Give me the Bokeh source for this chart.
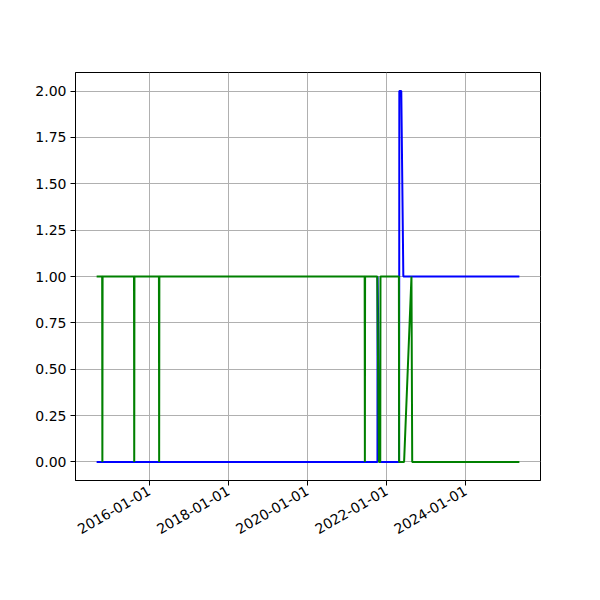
import math
import pandas as pd
from bokeh.plotting import figure
from bokeh.models import Range1d, FixedTicker, NumeralTickFormatter, CustomJSTickFormatter
from bokeh.embed import file_html
from bokeh.resources import INLINE

# ---- data ----
blue_dates = ["2014-09-03", "2021-10-08", "2021-10-09", "2021-11-01", "2022-04-26",
              "2022-04-28", "2022-05-16", "2022-06-04", "2025-05-10"]
blue_values = [0, 0, 1, 0, 0, 2, 2, 1, 1]

green_dates = ["2014-09-03", "2014-10-24", "2014-10-26", "2014-10-28",
               "2015-08-14", "2015-08-16", "2015-08-18",
               "2016-03-31", "2016-04-02", "2016-04-04",
               "2021-06-12", "2021-06-14", "2021-06-16",
               "2021-10-06", "2021-10-22", "2021-11-03", "2021-11-05",
               "2022-04-24", "2022-04-26", "2022-06-11", "2022-08-18", "2022-08-25",
               "2025-05-10"]
green_values = [1, 1, 0, 1,
                1, 0, 1,
                1, 0, 1,
                1, 0, 1,
                1, 0, 0, 1,
                1, 0, 0, 1, 0,
                0]

x_tick_labels = ["2016-01-01", "2018-01-01", "2020-01-01", "2022-01-01", "2024-01-01"]
y_ticks = [0.0, 0.25, 0.5, 0.75, 1.0, 1.25, 1.5, 1.75, 2.0]

bx = pd.to_datetime(blue_dates)
gx = pd.to_datetime(green_dates)

def ms(ts):
    return ts.value / 1e6

xmin = min(bx.min(), gx.min())
xmax = max(bx.max(), gx.max())
pad = (ms(xmax) - ms(xmin)) * 0.05
ymin = min(min(blue_values), min(green_values))
ymax = max(max(blue_values), max(green_values))
ypad = (ymax - ymin) * 0.05

p = figure(width=592, height=592, x_axis_type="datetime",
           output_backend="svg", toolbar_location=None,
           x_range=Range1d(ms(xmin) - pad, ms(xmax) + pad),
           y_range=Range1d(ymin - ypad, ymax + ypad),
           min_border_left=75, min_border_right=52,
           min_border_top=72, min_border_bottom=112)

p.line(bx, blue_values, line_color="#0000ff", line_width=2)
p.line(gx, green_values, line_color="#008000", line_width=2)

tick_ms = [ms(pd.Timestamp(t)) for t in x_tick_labels]
p.xaxis.ticker = FixedTicker(ticks=tick_ms)
p.xaxis.formatter = CustomJSTickFormatter(code="""
const d = new Date(tick);
const m = String(d.getUTCMonth()+1).padStart(2,'0');
const dd = String(d.getUTCDate()).padStart(2,'0');
return d.getUTCFullYear() + '-' + m + '-' + dd;
""")
p.xaxis.major_label_orientation = math.pi / 6
p.yaxis.ticker = FixedTicker(ticks=y_ticks)
p.yaxis.formatter = NumeralTickFormatter(format="0.00")

for ax in (p.xaxis, p.yaxis):
    ax.major_tick_out = 5
    ax.major_tick_in = 0
    ax.minor_tick_out = 0
    ax.minor_tick_in = 0
    ax.axis_line_color = "black"
    ax.major_tick_line_color = "black"
    ax.major_label_text_font = "DejaVu Sans"
    ax.major_label_text_font_size = "14px"
    ax.major_label_text_color = "black"
    ax.major_label_standoff = 4

p.grid.grid_line_color = "#b0b0b0"
p.grid.grid_line_width = 1
p.outline_line_color = "black"
p.outline_line_width = 1
p.background_fill_color = "white"
p.border_fill_color = "white"

open("out.html", "w").write(file_html(p, INLINE))
